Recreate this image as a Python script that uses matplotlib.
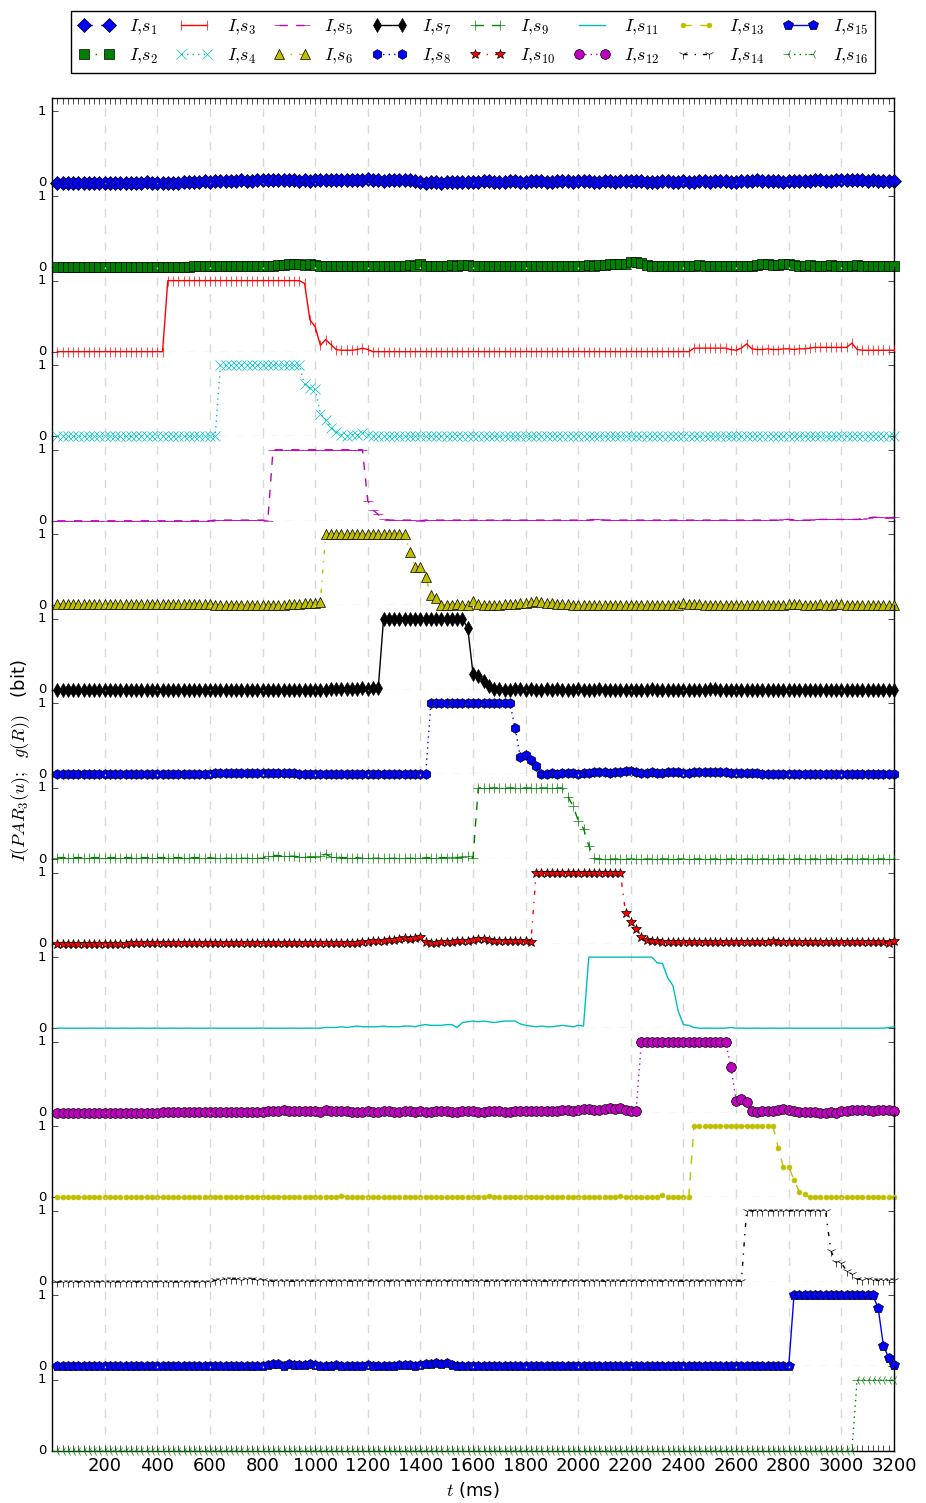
import numpy as np
import matplotlib
matplotlib.use('Agg')
import matplotlib.pyplot as plt

plt.style.use('classic')
plt.rcParams['figure.facecolor'] = 'white'
plt.rcParams['savefig.facecolor'] = 'white'

# sample times (ms), one every 20 ms
t_ms = np.arange(20, 3201, 20)

# I(PAR_3(u); g(R)) per stimulus s_i, 160 samples each (rows of 200 ms)
s1 = [0, 0, 0, 0, 0, 0, 0, 0, 0, 0,
      0, 0, 0, 0, 0, 0, 0, .01, 0, 0,
      0, 0, 0, 0, .01, .01, .01, .01, .02, .01,
      .02, .02, .02, .02, .02, .03, .02, .02, .03, .03,
      .04, .04, .03, .04, .04, .03, .02, .03, .02, .03,
      .04, .03, .03, .04, .03, .04, .04, .03, .04, .05,
      .04, .03, .02, .03, .04, .03, .04, .03, .02, .01,
      0, .01, .01, 0, .01, .01, .01, .01, .01, .01,
      .01, .02, .02, .01, .01, .01, .02, .02, .01, .01,
      .02, .02, .02, .01, .01, .02, .02, .02, .01, .02,
      .02, .02, .01, .01, .02, .02, .01, .02, .02, .02,
      .02, .02, .01, .01, .01, .02, .02, .01, .01, .02,
      .01, .01, .02, .02, .01, .02, .02, .02, .01, .01,
      .02, .02, .02, .03, .02, .02, .02, .02, .01, .02,
      .02, .02, .02, .02, .03, .03, .02, .02, .03, .03,
      .03, .04, .03, .03, .02, .03, .02, .02, .02, .02]
s2 = [0, 0, 0, 0, 0, 0, 0, 0, 0, 0,
      0, 0, 0, 0, 0, 0, 0, 0, 0, 0,
      0, 0, 0, 0, 0, 0, .01, .01, .01, .01,
      .02, .02, .02, .02, .01, .01, .01, .01, .01, .01,
      .01, .02, .03, .03, .04, .04, .04, .03, .04, .03,
      .02, .02, .02, .02, .01, .01, .01, .02, .01, .01,
      .01, .02, .02, .01, .01, .02, .02, .03, .02, .04,
      .01, .02, .01, .02, .01, .03, .02, .03, .03, .02,
      .02, .02, .02, .01, .01, .01, .02, .01, .01, .01,
      .01, .02, .02, .01, .01, .01, .02, .02, .01, .02,
      .02, .03, .02, .03, .03, .04, .04, .04, .05, .07,
      .07, .06, .03, .02, .02, .02, .02, .02, .02, .02,
      .02, .02, .03, .02, .02, .02, .02, .02, .02, .01,
      .02, .02, .02, .03, .04, .04, .03, .03, .04, .04,
      .03, .02, .02, .03, .02, .02, .02, .03, .02, .02,
      .02, .02, .03, .02, .02, .02, .02, .02, .02, .02]
s3 = [0, 0, 0, 0, 0, 0, 0, 0, 0, 0,
      0, 0, 0, 0, 0, 0, 0, 0, 0, 0,
      0, 1, 1, 1, 1, 1, 1, 1, 1, 1,
      1, 1, 1, 1, 1, 1, 1, 1, 1, 1,
      1, 1, 1, 1, 1, 1, 1, .96, .45, .35,
      .09, .17, .10, .03, .02, .02, .02, .03, .05, .03,
      0, 0, 0, 0, 0, 0, 0, 0, 0, 0,
      0, 0, 0, 0, 0, 0, 0, 0, 0, 0,
      0, 0, 0, 0, 0, 0, 0, 0, 0, 0,
      0, 0, 0, 0, 0, 0, 0, 0, 0, 0,
      0, 0, 0, 0, 0, 0, 0, 0, 0, 0,
      0, 0, 0, 0, 0, 0, 0, 0, 0, 0,
      0, .05, .05, .05, .05, .05, .05, .05, .03, .02,
      .05, .11, .04, .03, .03, .04, .03, .03, .04, .04,
      .03, .04, .04, .05, .06, .06, .06, .06, .06, .06,
      .06, .12, .03, .02, .02, .02, .02, .02, .02, .02]
s4 = [0, 0, 0, 0, 0, 0, 0, 0, 0, 0,
      0, 0, 0, 0, 0, 0, 0, 0, 0, 0,
      0, 0, 0, 0, 0, 0, 0, 0, 0, 0,
      0, 1, 1, 1, 1, 1, 1, 1, 1, 1,
      1, 1, 1, 1, 1, 1, 1, .73, .68, .66,
      .32, .23, .12, .06, .02, .01, .02, .02, .05, .02,
      0, 0, 0, 0, 0, 0, 0, 0, 0, 0,
      0, 0, 0, 0, 0, 0, .01, 0, 0, 0,
      0, 0, 0, 0, 0, 0, 0, 0, 0, 0,
      0, 0, .01, 0, 0, 0, 0, 0, 0, 0,
      0, 0, 0, 0, 0, 0, 0, 0, 0, 0,
      0, 0, 0, 0, 0, 0, 0, 0, 0, .01,
      .01, 0, 0, 0, 0, 0, 0, 0, 0, 0,
      0, 0, 0, 0, 0, 0, 0, 0, 0, 0,
      0, 0, 0, 0, 0, 0, 0, 0, 0, 0,
      0, 0, .01, 0, 0, 0, 0, 0, 0, 0]
s5 = [0, 0, 0, 0, 0, 0, 0, 0, 0, 0,
      0, 0, 0, 0, 0, 0, 0, 0, 0, 0,
      0, 0, 0, 0, 0, 0, 0, 0, 0, 0,
      .01, .01, .01, .01, .01, .01, .01, .01, .01, .01,
      0, 1, 1, 1, 1, 1, 1, 1, 1, 1,
      1, 1, 1, 1, 1, 1, 1, 1, 1, .28,
      .15, .09, .02, .01, .01, .01, .01, .01, .01, 0,
      .01, .01, .01, .01, .01, .01, .01, .01, .01, .01,
      .01, .01, .01, .01, .01, .01, .01, .01, .01, .01,
      .01, .01, .01, .01, .01, .01, .01, .01, .01, .01,
      .01, .01, .02, .02, .01, .01, .01, .01, .01, .01,
      .01, .01, .01, .01, .01, .01, .01, .01, .01, .01,
      .01, .01, .01, .01, .01, .01, .01, .01, .01, .01,
      .01, .01, .01, .01, .01, .01, .01, .01, .02, .02,
      .01, .01, .01, .01, .02, .02, .02, .02, .02, .02,
      .02, .02, .02, .03, .04, .05, .05, .05, .04, .05]
s6 = [.02, .02, .02, .02, .02, .02, .02, .02, .02, .02,
      .02, .02, .02, .02, .02, .02, .02, .02, .02, .02,
      .02, .02, .02, .02, .02, .02, .02, .02, .02, .02,
      .01, .01, .01, .01, .01, .01, .01, .01, .01, .01,
      .01, .01, .01, .01, .02, .02, .02, .03, .04, .04,
      .05, 1, 1, 1, 1, 1, 1, 1, 1, 1,
      1, 1, 1, 1, 1, 1, 1, .75, .54, .54,
      .40, .14, .11, .01, .01, .01, .02, .01, .01, .06,
      .02, .01, .01, .01, .01, .02, .02, .02, .03, .04,
      .05, .06, .05, .04, .03, .02, .02, .02, .01, .01,
      .01, .01, .01, .01, .01, .01, .01, .01, .01, .01,
      .01, .01, .01, .01, .01, .01, .01, .01, .01, .03,
      .02, .02, .02, .01, .01, .01, .01, .01, .01, .01,
      .01, .01, .01, .01, .01, .01, .01, .01, .01, .02,
      .02, .02, .01, .01, .01, .02, .01, .01, .02, .02,
      .01, .01, .01, .01, .01, .01, .01, .01, .01, .01]
s7 = [0, 0, 0, 0, 0, 0, 0, 0, 0, 0,
      0, 0, 0, 0, 0, 0, 0, 0, 0, 0,
      0, 0, 0, 0, 0, 0, 0, 0, 0, 0,
      0, 0, 0, 0, 0, 0, 0, 0, 0, 0,
      0, 0, 0, 0, 0, 0, 0, 0, 0, 0,
      0, 0, .01, .01, .01, .01, .02, .02, .03, .02,
      .03, .03, 1, 1, 1, 1, 1, 1, 1, 1,
      1, 1, 1, 1, 1, 1, 1, 1, .87, .23,
      .19, .13, .05, .01, .01, 0, 0, .01, .01, 0,
      .01, 0, 0, .01, 0, .01, 0, 0, 0, .01,
      0, 0, 0, .01, 0, 0, 0, 0, 0, 0,
      0, 0, 0, .01, 0, 0, 0, 0, 0, 0,
      0, 0, 0, 0, .01, .01, 0, 0, 0, 0,
      0, 0, 0, 0, 0, 0, 0, 0, 0, 0,
      0, 0, 0, 0, 0, 0, 0, 0, 0, 0,
      0, 0, 0, 0, 0, 0, 0, 0, 0, 0]
s8 = [0, 0, 0, 0, 0, 0, 0, 0, 0, 0,
      0, 0, 0, 0, 0, 0, 0, 0, 0, 0,
      0, 0, 0, 0, 0, .01, .01, .01, .01, .01,
      .02, .02, .02, .02, .02, .02, .02, .02, .02, .02,
      .02, .02, .02, .02, .02, .02, .01, .01, .01, .01,
      0, 0, 0, 0, 0, 0, 0, 0, .01, .01,
      .01, .01, .01, .01, .01, .01, .01, .01, .01, .01,
      0, 1, 1, 1, 1, 1, 1, 1, 1, 1,
      1, 1, 1, 1, 1, 1, 1, .66, .24, .27,
      .20, .12, 0, .01, .02, .01, .02, .02, .02, .01,
      .02, .02, .03, .03, .03, .02, .03, .03, .05, .05,
      .03, .02, .02, .03, .02, .02, .03, .03, .03, .02,
      .02, .03, .03, .03, .04, .03, .03, .03, .02, .02,
      .02, .02, .02, .02, .01, .01, .01, .01, .01, .01,
      .01, .01, .01, .01, .01, .01, .01, .01, .01, .01,
      .01, .01, .01, .01, .01, .01, .01, .01, .01, .01]
s9 = [.02, .02, .02, .02, .02, .02, .02, .02, .02, .02,
      .02, .02, .02, .02, .02, .02, .02, .02, .02, .02,
      .02, .02, .02, .02, .02, .02, .02, .02, .02, .02,
      .01, .01, .01, .01, .01, .01, .01, .01, .01, .01,
      .04, .05, .05, .04, .04, .04, .03, .03, .03, .03,
      .04, .07, .03, .03, .02, .02, .02, .02, .01, .01,
      .01, .01, .01, .01, .01, .01, .01, .01, .01, .01,
      .02, .02, .02, .02, .02, .03, .02, .03, .04, .01,
      1, 1, 1, 1, 1, 1, 1, 1, 1, 1,
      1, 1, 1, 1, 1, 1, 1, .88, .75, .54,
      .43, .19, .01, 0, 0, 0, 0, 0, 0, 0,
      0, 0, 0, 0, 0, 0, 0, 0, 0, 0,
      0, 0, 0, 0, 0, 0, 0, 0, 0, 0,
      0, 0, 0, 0, 0, 0, 0, 0, 0, 0,
      0, 0, 0, 0, 0, 0, 0, 0, 0, 0,
      0, 0, 0, 0, 0, 0, 0, 0, 0, 0]
s10 = [0, 0, 0, 0, 0, 0, 0, 0, 0, 0,
       0, 0, 0, 0, .01, .01, .01, .01, .01, .01,
       .01, .01, .01, .01, .01, .01, .01, .01, .01, .01,
       .01, .01, .01, .01, .01, .01, .01, .01, .01, .01,
       .01, .01, .01, .01, .01, .01, .01, .01, .01, .01,
       .01, .01, .01, .01, .01, .01, .01, .01, .02, .02,
       .03, .04, .04, .05, .05, .07, .08, .07, .08, .10,
       .02, .01, .01, .02, .02, .02, .03, .03, .04, .05,
       .06, .07, .05, .04, .04, .04, .03, .03, .03, .03,
       .02, 1, 1, 1, 1, 1, 1, 1, 1, 1,
       1, 1, 1, 1, 1, 1, 1, 1, .43, .30,
       .20, .10, .05, .03, .03, .02, .02, .02, .02, .02,
       .02, .02, .02, .02, .02, .02, .02, .02, .02, .02,
       .02, .02, .02, .02, .02, .02, .03, .02, .02, .02,
       .02, .02, .02, .02, .02, .02, .02, .02, .02, .02,
       .02, .02, .02, .02, .02, .02, .02, .02, .01, .04]
s11 = [0, 0, 0, 0, 0, 0, 0, 0, 0, 0,
       0, 0, 0, 0, 0, 0, 0, 0, 0, 0,
       0, 0, 0, 0, 0, 0, 0, 0, 0, 0,
       0, 0, 0, 0, 0, 0, 0, 0, 0, 0,
       0, 0, 0, 0, 0, 0, 0, 0, 0, 0,
       0, .01, .01, .01, .02, .01, .02, .03, .02, .02,
       .02, .02, .03, .02, .02, .02, .03, .03, .02, .04,
       .05, .04, .04, .04, .05, .05, .01, .08, .09, .10,
       .09, .10, .09, .08, .09, .10, .10, .10, .06, .04,
       .03, .02, .03, .02, .02, .03, .04, .03, .02, .04,
       .03, 1, 1, 1, 1, 1, 1, 1, 1, 1,
       1, 1, 1, 1, .92, .91, .71, .60, .24, .05,
       .04, .01, 0, 0, 0, 0, 0, 0, .01, 0,
       0, 0, 0, 0, 0, 0, 0, 0, 0, 0,
       0, 0, 0, 0, 0, 0, 0, 0, 0, 0,
       0, 0, 0, 0, 0, 0, 0, 0, .01, .02]
s12 = [0, 0, 0, 0, 0, 0, 0, 0, 0, 0,
       0, 0, 0, 0, 0, 0, 0, 0, 0, 0,
       .01, .01, .01, .01, .01, .01, .01, .01, .01, .01,
       .01, .01, .01, .01, .01, .01, .01, .01, .01, .01,
       .03, .03, .03, .04, .03, .03, .02, .03, .02, .02,
       .01, .04, .03, .02, .02, .02, .01, .01, .01, .02,
       .01, .01, .02, .02, .01, .01, .02, .02, .01, .02,
       .01, .01, .02, .03, .02, .01, .01, .02, .02, .02,
       .01, .01, .02, .02, .02, .01, .01, .02, .02, .02,
       .02, .03, .02, .02, .02, .03, .04, .04, .03, .04,
       .05, .05, .04, .04, .05, .06, .05, .07, .04, .03,
       .03, 1, 1, 1, 1, 1, 1, 1, 1, 1,
       1, 1, 1, 1, 1, 1, 1, 1, .65, .17,
       .19, .15, .02, .01, .02, .03, .03, .04, .05, .04,
       .02, .01, .01, .01, .01, 0, 0, .01, 0, .02,
       .03, .04, .04, .04, .04, .03, .04, .04, .04, .03]
s13 = [0, 0, 0, 0, 0, 0, 0, 0, 0, 0,
       0, 0, 0, 0, 0, 0, 0, 0, 0, 0,
       0, 0, 0, 0, 0, 0, 0, 0, 0, 0,
       .01, .01, .01, .01, .01, .01, .01, .01, .01, .01,
       .01, .01, .01, .01, .01, .01, .01, .01, .01, .01,
       .01, .01, .01, .01, .02, .01, .01, .01, .01, .01,
       0, 0, 0, 0, 0, 0, 0, 0, .01, 0,
       0, 0, 0, 0, 0, 0, 0, 0, 0, 0,
       .01, .01, .02, .01, .01, .01, .01, .01, .01, .01,
       .01, .01, .01, .01, .01, .01, .01, .01, .01, .01,
       .01, 0, 0, 0, 0, 0, 0, .02, 0, 0,
       0, 0, 0, 0, 0, .03, 0, 0, 0, 0,
       0, 1, 1, 1, 1, 1, 1, 1, 1, 1,
       1, 1, 1, 1, 1, 1, 1, .70, .42, .42,
       .25, .08, .04, 0, 0, 0, 0, 0, 0, 0,
       0, 0, 0, 0, 0, 0, 0, 0, 0, 0]
s14 = [0, 0, 0, 0, 0, 0, 0, 0, 0, 0,
       0, 0, 0, 0, 0, 0, 0, 0, 0, 0,
       0, 0, 0, 0, 0, 0, 0, 0, 0, 0,
       .02, .03, .04, .04, .04, .03, .04, .04, .03, .03,
       .01, .01, .01, .01, .01, .01, .01, .01, .01, .01,
       .01, .01, .01, .01, .01, .01, .01, .01, .01, .01,
       .01, .01, .01, .01, .01, .01, .01, .01, .01, .01,
       .01, .01, .01, .01, .01, .01, .01, .01, .01, .01,
       .01, .01, .01, .01, .01, .01, .01, .01, .01, .01,
       .01, .01, .01, .01, .01, .01, .01, .01, .01, .01,
       .01, .01, .01, .01, .01, .01, .01, .01, .01, .01,
       .01, .01, .01, .01, .01, .01, .01, .01, .01, .01,
       .01, .01, .01, .01, .01, .01, .01, .01, .01, .01,
       .01, 1, 1, 1, 1, 1, 1, 1, 1, 1,
       1, 1, 1, 1, 1, 1, 1, .44, .28, .26,
       .16, .11, .04, .03, .04, .03, .02, .02, .02, .02]
s15 = [0, 0, 0, 0, 0, 0, 0, 0, 0, 0,
       0, 0, 0, 0, 0, 0, 0, 0, 0, 0,
       .01, .01, .01, .01, .01, .01, .01, .01, .01, .01,
       .01, .01, .01, .01, .01, .01, .01, .01, .01, .01,
       .02, .04, .03, .01, .04, .02, .02, .02, .03, .02,
       .01, .01, .01, .02, .01, .01, .01, .01, .01, .02,
       .01, .01, .01, .01, .01, .02, .02, .02, .01, .02,
       .03, .04, .05, .04, .05, .02, .01, .01, .01, .01,
       .01, .01, .01, .01, .01, .01, .01, .01, .01, .01,
       .01, .01, .01, .01, .01, .01, .01, .01, .01, .01,
       .01, .01, .01, .01, .01, .01, .01, .01, .01, .01,
       .01, .01, .01, .01, .01, .01, .01, .01, .01, .01,
       .01, .01, .01, .01, .01, .01, .01, .01, .01, .01,
       .01, .01, .01, .01, .01, .01, .01, .01, .01, 0,
       1, 1, 1, 1, 1, 1, 1, 1, 1, 1,
       1, 1, 1, 1, 1, 1, .82, .29, .12, .02]
s16 = [0, 0, 0, 0, 0, 0, 0, 0, 0, 0,
       0, 0, 0, 0, 0, 0, 0, 0, 0, 0,
       0, 0, 0, 0, 0, 0, 0, 0, 0, 0,
       0, 0, 0, 0, 0, 0, 0, 0, 0, 0,
       0, 0, 0, 0, 0, 0, 0, 0, 0, 0,
       0, 0, 0, 0, 0, 0, 0, 0, 0, 0,
       0, 0, 0, 0, 0, 0, 0, 0, 0, 0,
       0, 0, 0, 0, 0, 0, 0, 0, 0, 0,
       0, 0, 0, 0, 0, 0, 0, 0, 0, 0,
       0, 0, 0, 0, 0, 0, 0, 0, 0, 0,
       0, 0, 0, 0, 0, 0, 0, 0, 0, 0,
       0, 0, 0, 0, 0, 0, 0, 0, 0, 0,
       0, 0, 0, 0, 0, 0, 0, 0, 0, 0,
       0, 0, 0, 0, 0, 0, 0, 0, 0, 0,
       0, 0, 0, 0, 0, 0, 0, 0, 0, 0,
       0, 0, 1, 1, 1, 1, 1, 1, 1, 1]

series = [s1, s2, s3, s4, s5, s6, s7, s8, s9, s10, s11, s12, s13, s14, s15, s16]
labels = [r'$I{,}s_{%d}$' % (i + 1) for i in range(16)]

colors = ['b', 'g', 'r', 'c', 'm', 'y', 'k', 'b', 'g', 'r', 'c', 'm', 'y', 'k', 'b', 'g']
markers = ['D', 's', '|', 'x', '_', '^', 'd', 'h', '+', '*', '', 'o', '.', '1', 'p', '3']
lstyles = ['--', '-.', '-', ':', '--', '-.', '-', ':', '--', '-.', '-', ':', '--', '-.', '-', ':']

fig, axes = plt.subplots(16, 1, sharex=True, figsize=(9.26, 15.03), dpi=100)
fig.subplots_adjust(left=0.0562, right=0.9654, top=0.9348, bottom=0.0346, hspace=0)

handles = []
for i, ax in enumerate(axes):
    ax.set_facecolor('none')
    ax.set_axisbelow(True)
    line, = ax.plot(t_ms, series[i], color=colors[i], marker=markers[i],
                    markersize=7, linestyle=lstyles[i], clip_on=False, zorder=3)
    handles.append(line)
    ax.set_xlim(0, 3200)
    ax.set_ylim(0, 1.19)
    ax.set_yticks([0, 1])
    ax.tick_params(axis='y', labelsize=9.5, direction='in', length=4, left=True, right=True)
    ax.xaxis.grid(True, color='#d9d9d9', linestyle='--', dashes=(6, 6), linewidth=1)
    ax.axhline(0, color='#d9d9d9', linestyle='--', dashes=(6, 6), linewidth=1, zorder=0)
    ax.spines['top'].set_visible(i == 0)
    ax.spines['bottom'].set_visible(i == 15)
    ax.tick_params(axis='x', which='both', top=(i == 0), bottom=(i == 15),
                   labelbottom=(i == 15), labeltop=False, direction='in', length=4)

axes[-1].set_xticks(np.arange(200, 3201, 200))
axes[-1].set_xticks(t_ms, minor=True)
axes[-1].tick_params(axis='x', labelsize=13)
axes[-1].set_xlabel(r'$t$ (ms)', fontsize=13, labelpad=4)

fig.text(0.022, 0.494, r'$I(PAR_3(u);\ \ g(R))$   (bit)', rotation=90,
         ha='center', va='center', fontsize=13)

fig.legend(handles, labels, loc='upper center', bbox_to_anchor=(0.511, 0.999),
           ncol=8, fontsize=13, numpoints=2, handlelength=2.0,
           columnspacing=1.0, handletextpad=0.8, borderpad=0.4, frameon=True)

fig.savefig('out.png', dpi=100)
